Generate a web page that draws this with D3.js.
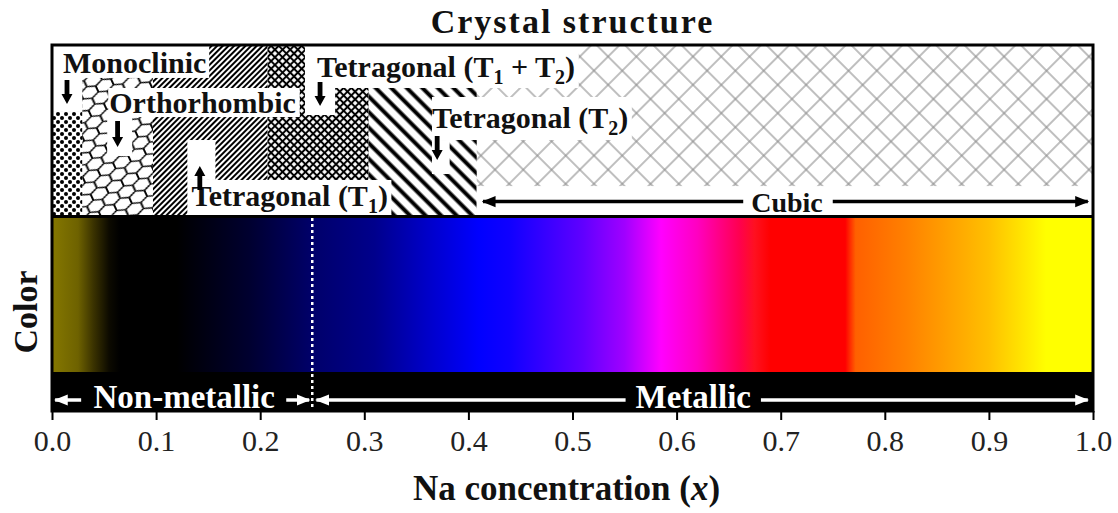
<!DOCTYPE html>
<html>
<head>
<meta charset="utf-8">
<script src="https://cdn.jsdelivr.net/npm/d3@7"></script>
<style>
  body { margin: 0; background: #fff; }
  text { font-family: "Liberation Serif", "Times New Roman", serif; }
</style>
</head>
<body>
<svg id="chart" width="1118" height="513"></svg>
<script>
// ---- data ----
const tickValues = [0, 0.1, 0.2, 0.3, 0.4, 0.5, 0.6, 0.7, 0.8, 0.9, 1.0];

// crystal phases along x (Na concentration)
const phaseNames = ["Monoclinic", "Orthorhombic", "Tetragonal (T1)",
  "Tetragonal (T1 + T2)", "Tetragonal (T2)", "Cubic"];
const phaseFrom = [0, 0.029, 0.097, 0.207, 0.304, 0.408];
const phaseTo = [0.029, 0.097, 0.207, 0.304, 0.408, 1.0];
const phasePattern = ["dots", "honey", "hatchFine", "crossFine", "hatchBold", "crossGrey"];

// colour of the sample vs x
const colorStops = [0, 0.025, 0.04, 0.055, 0.065, 0.12, 0.19, 0.25, 0.31, 0.36, 0.41,
  0.44, 0.51, 0.55, 0.585, 0.62, 0.66, 0.675, 0.69, 0.762, 0.772, 0.82, 0.90, 0.955, 1.0];
const colorValues = ["#857800", "#6e6200", "#3a3200", "#0c0a00", "#000000", "#000000",
  "#000030", "#00006a", "#00008c", "#0000c8", "#0000ff", "#1000ff", "#6000ff", "#a000ff",
  "#ff00ff", "#ff00c0", "#ff0050", "#ff1020", "#ff0000", "#ff0000", "#ff6000",
  "#ff8000", "#ffc000", "#ffff00", "#ffff00"];

const transitionX = 0.25; // non-metallic -> metallic

// white label boxes in the structure panel: [x0, x1, y0 %, y1 %]
const labelBoxes = [
  [0, 0.151, 0, 18.8], [0, 0.029, 0, 38.8],
  [0.054, 0.238, 24.7, 41.8], [0.053, 0.077, 41, 64.7],
  [0.130, 0.326, 78.8, 100], [0.130, 0.157, 55.3, 78.8],
  [0.243, 0.506, 0, 24.7], [0.243, 0.272, 24.7, 40.6],
  [0.365, 0.557, 30, 55.3], [0.365, 0.382, 55.3, 75.3],
  [0.408, 1.0, 82.4, 100]
];
// phase labels: text parts ([string, isSubscript]), x start, baseline %
const labelParts = [
  [["Monoclinic", 0]],
  [["Orthorhombic", 0]],
  [["Tetragonal (T", 0], ["1", 1], [")", 0]],
  [["Tetragonal (T", 0], ["1", 1], [" + T", 0], ["2", 1], [")", 0]],
  [["Tetragonal (T", 0], ["2", 1], [")", 0]]
];
const labelX = [0.0106, 0.055, 0.134, 0.2546, 0.365];
const labelY = [15.9, 39.4, 94.1, 18.2, 48.2];
// small pointer arrows: x, tail %, head %
const pointerX = [0.0144, 0.063, 0.142, 0.2575, 0.370];
const pointerTail = [20, 44.1, 84.7, 21.2, 52.9];
const pointerHead = [34.1, 59.4, 70.6, 35.3, 67.1];

// range arrows in the black bar: [from, to] (arrow head at "to")
const barArrows = [[0.028, 0.003], [0.225, transitionX - 0.003],
  [0.551, transitionX + 0.004], [0.681, 0.995]];

// ---- layout ----
const svg = d3.select("svg#chart");
const x = d3.scaleLinear().domain([0, 1]).range([52, 1093]);
const frameTop = 45, panelBottom = 216, bandTop = 218, bandBottom = 372, frameBottom = 411;
const yP = d3.scaleLinear().domain([0, 100]).range([frameTop + 1, panelBottom]);
const midX = (x(0) + x(1)) / 2;

const defs = svg.append("defs");

// patterns
const dots = defs.append("pattern").attr("id", "dots")
    .attr("patternUnits", "userSpaceOnUse").attr("width", 8).attr("height", 8);
dots.append("circle").attr("cx", 2).attr("cy", 2).attr("r", 2);
dots.append("circle").attr("cx", 6).attr("cy", 6).attr("r", 2);

defs.append("pattern").attr("id", "honey")
    .attr("patternUnits", "userSpaceOnUse").attr("width", 14).attr("height", 24)
    .attr("patternTransform", "rotate(-25) scale(1.2,0.8)")
  .append("path")
    .attr("d", "M0,4L7,0L14,4M0,4L0,12M14,4L14,12M0,12L7,16L14,12M7,16L7,24")
    .attr("fill", "none").attr("stroke", "#000").attr("stroke-width", 1.6);

function hatch(id, size, angle, width, color, cross) {
  const p = defs.append("pattern").attr("id", id)
      .attr("patternUnits", "userSpaceOnUse").attr("width", size).attr("height", size)
      .attr("patternTransform", "rotate(" + angle + ")");
  p.append("line").attr("x1", size / 2).attr("x2", size / 2).attr("y1", 0).attr("y2", size)
      .attr("stroke", color).attr("stroke-width", width);
  if (cross) {
    p.append("line").attr("y1", size / 2).attr("y2", size / 2).attr("x1", 0).attr("x2", size)
        .attr("stroke", color).attr("stroke-width", width);
  }
}
hatch("hatchFine", 4, 45, 2, "#000", false);
hatch("crossFine", 5.4, 45, 2, "#000", true);
hatch("hatchBold", 11, -45, 4, "#000", false);
hatch("crossGrey", 20, 45, 1.1, "#8a8a8a", true);

// gradient for the colour band
const grad = defs.append("linearGradient").attr("id", "colorGrad")
    .attr("gradientUnits", "userSpaceOnUse")
    .attr("x1", x(0)).attr("x2", x(1)).attr("y1", 0).attr("y2", 0);
colorStops.forEach((s, i) => {
  grad.append("stop").attr("offset", s).attr("stop-color", colorValues[i]);
});

// arrow markers
function marker(id, color) {
  defs.append("marker").attr("id", id).attr("viewBox", "0 0 10 10")
      .attr("refX", 9).attr("refY", 5).attr("markerWidth", 4).attr("markerHeight", 4)
      .attr("orient", "auto-start-reverse").attr("markerUnits", "strokeWidth")
    .append("path").attr("d", "M0,1L10,5L0,9Z").attr("fill", color);
}
marker("headBlack", "#000");
marker("headWhite", "#fff");

// ---- crystal structure panel ----
svg.append("g").selectAll("rect")
    .data(phaseNames)
    .join("rect")
    .attr("x", (d, i) => x(phaseFrom[i]))
    .attr("width", (d, i) => x(phaseTo[i]) - x(phaseFrom[i]))
    .attr("y", yP(0)).attr("height", yP(100) - yP(0))
    .attr("fill", (d, i) => "url(#" + phasePattern[i] + ")");

svg.append("g").selectAll("rect")
    .data(labelBoxes)
    .join("rect")
    .attr("x", (d) => x(d[0])).attr("width", (d) => x(d[1]) - x(d[0]))
    .attr("y", (d) => yP(d[2])).attr("height", (d) => yP(d[3]) - yP(d[2]))
    .attr("fill", "#fff");

const labels = svg.append("g").attr("font-weight", "bold").attr("font-size", 30).attr("fill", "#111");
labelParts.forEach((parts, i) => {
  const t = labels.append("text").attr("x", x(labelX[i])).attr("y", yP(labelY[i]));
  let prevSub = 0;
  parts.forEach(([s, sub]) => {
    t.append("tspan").text(s)
        .attr("font-size", sub ? 20 : null)
        .attr("dy", sub ? 7 : (prevSub ? -7 : 0));
    prevSub = sub;
  });
});

// pointer arrows (shaft + head)
svg.append("g").selectAll("path")
    .data(pointerX)
    .join("path")
    .attr("fill", "#000")
    .attr("d", (d, i) => {
      const cx = x(d), t = yP(pointerTail[i]), h = yP(pointerHead[i]);
      const dir = h > t ? 1 : -1;
      const neck = h - dir * 10;
      return "M" + (cx - 2.4) + "," + t + "L" + (cx + 2.4) + "," + t +
        "L" + (cx + 2.4) + "," + neck + "L" + (cx + 5.5) + "," + neck +
        "L" + cx + "," + h + "L" + (cx - 5.5) + "," + neck +
        "L" + (cx - 2.4) + "," + neck + "Z";
    });

// cubic range arrow
const cubicY = yP(91.5);
svg.append("line").attr("x1", x(0.664)).attr("x2", x(0.414))
    .attr("y1", cubicY).attr("y2", cubicY)
    .attr("stroke", "#000").attr("stroke-width", 3.5).attr("marker-end", "url(#headBlack)");
svg.append("line").attr("x1", x(0.75)).attr("x2", x(0.995))
    .attr("y1", cubicY).attr("y2", cubicY)
    .attr("stroke", "#000").attr("stroke-width", 3.5).attr("marker-end", "url(#headBlack)");
svg.append("text").attr("x", x(0.706)).attr("y", cubicY + 10)
    .attr("text-anchor", "middle").attr("font-weight", "bold").attr("font-size", 28)
    .attr("fill", "#111").text(phaseNames[5]);

// ---- colour band ----
svg.append("rect").attr("x", x(0)).attr("width", x(1) - x(0))
    .attr("y", bandTop).attr("height", bandBottom - bandTop)
    .attr("fill", "url(#colorGrad)");
svg.append("rect").attr("x", x(0)).attr("width", x(1) - x(0))
    .attr("y", bandBottom).attr("height", frameBottom - bandBottom)
    .attr("fill", "#000");

// metallic / non-metallic arrows
const barY = 400;
svg.append("g").selectAll("line")
    .data(barArrows)
    .join("line")
    .attr("x1", (d) => x(d[0])).attr("x2", (d) => x(d[1]))
    .attr("y1", barY).attr("y2", barY)
    .attr("stroke", "#fff").attr("stroke-width", 3.5)
    .attr("marker-end", "url(#headWhite)");
svg.append("text").attr("x", x(0.127)).attr("y", 408)
    .attr("text-anchor", "middle").attr("font-weight", "bold").attr("font-size", 33)
    .attr("fill", "#fff").text("Non-metallic");
svg.append("text").attr("x", x(0.616)).attr("y", 408)
    .attr("text-anchor", "middle").attr("font-weight", "bold").attr("font-size", 33)
    .attr("fill", "#fff").text("Metallic");

// transition line
svg.append("line").attr("x1", x(transitionX)).attr("x2", x(transitionX))
    .attr("y1", bandTop).attr("y2", frameBottom)
    .attr("stroke", "#fff").attr("stroke-width", 2.5).attr("stroke-dasharray", "3,3");

// ---- frame ----
svg.append("line").attr("x1", x(0)).attr("x2", x(1))
    .attr("y1", panelBottom + 0.5).attr("y2", panelBottom + 0.5)
    .attr("stroke", "#000").attr("stroke-width", 3);
svg.append("rect").attr("x", x(0)).attr("y", frameTop)
    .attr("width", x(1) - x(0)).attr("height", frameBottom - frameTop)
    .attr("fill", "none").attr("stroke", "#000").attr("stroke-width", 3);

// ---- axis ----
const axis = svg.append("g")
    .attr("transform", "translate(0," + frameBottom + ")")
    .call(d3.axisBottom(x).tickValues(tickValues).tickFormat(d3.format(".1f"))
        .tickSize(9).tickSizeOuter(0));
axis.select(".domain").remove();
axis.selectAll(".tick line").attr("stroke", "#000").attr("stroke-width", 2);
axis.selectAll(".tick text")
    .attr("y", 40).attr("dy", null)
    .attr("font-family", "Liberation Serif, Times New Roman, serif")
    .attr("font-size", 30).attr("fill", "#222");

// ---- titles ----
svg.append("text").attr("x", midX).attr("y", 33)
    .attr("text-anchor", "middle").attr("font-weight", "bold").attr("font-size", 34)
    .attr("letter-spacing", 2)
    .attr("fill", "#111").text("Crystal structure");

const xt = svg.append("text").attr("x", midX - 6).attr("y", 500)
    .attr("text-anchor", "middle").attr("font-weight", "bold").attr("font-size", 35)
    .attr("fill", "#111");
xt.append("tspan").text("Na concentration (");
xt.append("tspan").attr("font-style", "italic").text("x");
xt.append("tspan").text(")");

svg.append("text").attr("transform", "translate(37,312) rotate(-90)")
    .attr("text-anchor", "middle").attr("font-weight", "bold").attr("font-size", 34)
    .attr("fill", "#111").text("Color");
</script>
</body>
</html>
